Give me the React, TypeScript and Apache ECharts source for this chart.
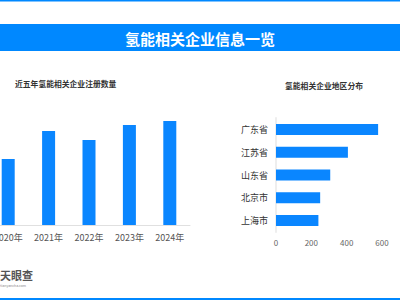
import React, { useEffect, useRef } from "react";
import * as echarts from "echarts";

const yearCategories = ["2020年", "2021年", "2022年", "2023年", "2024年"];
const yearValues = [330, 470, 425, 500, 520];

const regionCategories = ["广东省", "江苏省", "山东省", "北京市", "上海市"];
const regionValues = [578, 407, 307, 250, 240];
const regionTicks = [0, 200, 400, 600];

const FONT = "'Noto Sans CJK SC', 'Noto Sans', sans-serif";
const BLUE = "#0A86FF";

export default function App() {
  const ref = useRef<HTMLDivElement>(null);
  useEffect(() => {
    if (!ref.current) return;
    const chart = echarts.init(ref.current, null, { renderer: "svg" });
    chart.setOption({
      animation: false,
      backgroundColor: "#ffffff",
      textStyle: { fontFamily: FONT },
      graphic: [
        { type: "rect", shape: { x: 0, y: 0, width: 400, height: 1.5 }, style: { fill: "#0088FF" } },
        { type: "rect", shape: { x: 0, y: 24, width: 400, height: 27 }, style: { fill: "#0088FF" } },
        {
          type: "text", x: 200, y: 38,
          style: { text: "氢能相关企业信息一览", fill: "#ffffff", font: `bold 15px ${FONT}`, textAlign: "center", textVerticalAlign: "middle" },
        },
        {
          type: "text", x: 15, y: 83,
          style: { text: "近五年氢能相关企业注册数量", fill: "#333333", font: `bold 7.8px ${FONT}`, textAlign: "left", textVerticalAlign: "middle" },
        },
        {
          type: "text", x: 324, y: 85,
          style: { text: "氢能相关企业地区分布", fill: "#333333", font: `bold 7.8px ${FONT}`, textAlign: "center", textVerticalAlign: "middle" },
        },
        {
          type: "text", x: 0, y: 275,
          style: { text: "天眼查", fill: "#555555", font: `bold 11px ${FONT}`, textAlign: "left", textVerticalAlign: "middle" },
        },
        {
          type: "text", x: 0, y: 285,
          style: { text: "tianyancha.com", fill: "#888888", font: `3.5px ${FONT}`, textAlign: "left", textVerticalAlign: "middle" },
        },
        { type: "rect", shape: { x: 0, y: 298, width: 400, height: 2 }, style: { fill: "#0088FF" } },
      ],
      grid: [
        { left: -12, right: 210, top: 105, bottom: 75, outerBoundsMode: "none" },
        { left: 276, right: 18, top: 118, bottom: 68, outerBoundsMode: "none" },
      ],
      xAxis: [
        {
          gridIndex: 0, type: "category", data: yearCategories,
          axisLine: { lineStyle: { color: "#e0e0e0" } },
          axisTick: { show: false },
          axisLabel: { color: "#555555", fontSize: 9, margin: 8 },
        },
        {
          gridIndex: 1, type: "value", min: 0, max: 600, interval: 200,
          axisLine: { show: false }, axisTick: { show: false }, splitLine: { show: false },
          axisLabel: { color: "#666666", fontSize: 8, margin: 6, formatter: (v: number) => (regionTicks.includes(v) ? String(v) : "") },
        },
      ],
      yAxis: [
        { gridIndex: 0, type: "value", min: 0, max: 600, show: false },
        {
          gridIndex: 1, type: "category", data: regionCategories, inverse: true,
          axisLine: { lineStyle: { color: "#eeeeee", width: 2 } },
          axisTick: { show: false },
          axisLabel: { color: "#333333", fontSize: 9, margin: 8 },
        },
      ],
      series: [
        {
          type: "bar", xAxisIndex: 0, yAxisIndex: 0, data: yearValues, barWidth: 13,
          itemStyle: { color: BLUE },
        },
        {
          type: "bar", xAxisIndex: 1, yAxisIndex: 1, data: regionValues, barWidth: 11,
          itemStyle: { color: BLUE },
        },
      ],
    });
    return () => chart.dispose();
  }, []);
  return <div ref={ref} style={{ position: "fixed", left: 0, top: 0, width: 400, height: 300 }} />;
}
